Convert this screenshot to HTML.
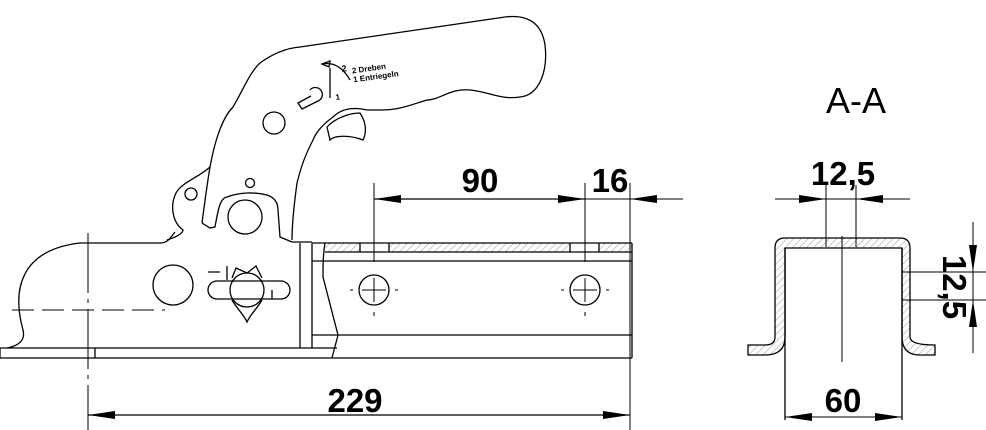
<!DOCTYPE html>
<html><head><meta charset="utf-8"><style>
html,body{margin:0;padding:0;background:#fff;}
svg{display:block;}
.d{font-family:"Liberation Sans",sans-serif;font-weight:bold;font-size:33px;fill:#000;}
</style></head><body>
<svg width="986" height="430" viewBox="0 0 986 430" xmlns="http://www.w3.org/2000/svg">
<defs>
<pattern id="h" width="5" height="5" patternUnits="userSpaceOnUse" patternTransform="rotate(45)">
<line x1="0" y1="0" x2="0" y2="5" stroke="#999" stroke-width="1"/>
</pattern>
<marker id="a" viewBox="0 0 27 8" refX="27" refY="4" markerWidth="27" markerHeight="8" orient="auto-start-reverse" markerUnits="userSpaceOnUse">
<path d="M0,0 L27,4 L0,8 Z" fill="#000"/></marker>
</defs>
<g fill="none" stroke="#000" stroke-width="1.3">
<path d="M0,348 H337 M0,358 H632 M0,348 V358 M95,348 V358"/>
<path d="M7,348 C22,345 25,338 23,330 C12,290 20,250 80,243 H160 C168,243 170,238 175,232"/>
<path d="M300,243 V348 M312,243 V348 M292,242 H312"/>
<path d="M167,240 C180,236 183,232 183,230 C172,222 170,205 176,193 C182,182 198,178 210,167 C215,140 222,118 233,107 C243,90 250,72 260,63 C275,52 288,48 300,47 L505,17 C530,14 542,25 545,45 C548,70 540,95 520,97 C500,100 490,92 470,90 C450,88 440,100 427,100 C410,105 400,110 380,110 L367,110 C350,106 340,110 333,117 C322,125 316,132 313,140 C305,155 300,170 297,183 C294,205 292,225 292,240"/>
<path d="M202,223 C205,200 207,185 210,167"/>
<path d="M202,223 L210,228 L215,227 C218,210 220,198 227,197 C240,192 255,192 267,195 C276,198 278,204 278,210 L280,237 L292,242"/>
<circle cx="245" cy="217" r="17"/>
<circle cx="191" cy="194" r="6"/>
<circle cx="250" cy="183" r="4.5"/>
<circle cx="274" cy="123" r="11"/>
<path d="M310,90 A7,7 0 1 1 318,101 L302,109 L298,103 L311,96"/>
<path d="M327,127 C335,118 350,113 360,113 C366,122 367,132 363,140 C350,135 335,135 330,140 Z"/>
<path d="M322,64 C332,62 342,66 350,80" />
<path d="M322,64 L330,61 L329,67 Z"/>
<path d="M330,68 V98"/>
<circle cx="173" cy="285" r="20"/>
<rect x="208" y="281" width="82" height="18" rx="9"/>
<circle cx="247" cy="290" r="17"/>
<path d="M232,300 C238,310 244,315 247,322 C250,315 256,310 262,300"/>
<path d="M232,278 L236,268 L247,273 L256,266 L262,278"/>
<path d="M208,272 H220 M227,266 V280 M272,290 V299"/>
<rect x="325" y="243" width="35" height="9" fill="url(#h)" stroke="none"/>
<rect x="389" y="243" width="181" height="9" fill="url(#h)" stroke="none"/>
<rect x="599" y="243" width="33" height="9" fill="url(#h)" stroke="none"/>
<path d="M312,243 H632 M325,252 H632 M312,261 H632 M312,335 H632 M632,243 V358"/>
<path d="M360,243 V252 M389,243 V252 M570,243 V252 M599,243 V252"/>
<path d="M325,243 C323,255 323,265 323,277 L338,335 L332,358"/>
<ellipse cx="374" cy="290" rx="15" ry="15"/>
<ellipse cx="585" cy="290" rx="15" ry="15"/>
</g>
<g stroke="#000" stroke-width="1" fill="none">
<path d="M374,278 V302 M362,290 H386 M585,278 V302 M573,290 H597"/>
<path d="M350,290 H353 M395,290 H398 M374,312 V316 M561,290 H564 M606,290 H609 M585,312 V316"/>
<path d="M12,310 H165" stroke-dasharray="22,8"/>
<path d="M88,233 V430" stroke-dasharray="60,6,4,6"/>
<path d="M374,183 V262 M585,183 V262 M630,183 V430"/>
<path d="M374,199 H585" marker-start="url(#a)" marker-end="url(#a)" stroke-width="1.2"/>
<path d="M585,199 H630"/>
<path d="M683,199 H630" marker-end="url(#a)"/>
<path d="M88,415 H630" marker-start="url(#a)" marker-end="url(#a)" stroke-width="1.2"/>
</g>
<g class="d">
<text x="480" y="192" text-anchor="middle">90</text>
<text x="610" y="192" text-anchor="middle">16</text>
<text x="355" y="412" text-anchor="middle">229</text>
</g>
<g font-family="Liberation Sans,sans-serif" font-weight="bold" font-size="8" fill="#000" transform="rotate(-8 370 70)">
<text x="352" y="71">2 Dreben</text>
<text x="352" y="80">1 Entriegeln</text>
<text x="342" y="68" font-size="9">2</text>
<text x="332" y="95" font-size="8">1</text>
</g>
<text x="856" y="113" text-anchor="middle" font-family="Liberation Sans,sans-serif" font-size="36" fill="#000">A-A</text>
<path d="M775,337 V248 Q775,238 785,238 H900 Q910,238 910,248 V337 Q910,345 935,345 V355 H920 Q902,355 902,337 V248 H785 V337 Q785,355 765,355 H748 V345 H765 Q775,345 775,337 Z" fill="url(#h)" stroke="#000" stroke-width="1.3"/>
<path d="M785,248 V420 M902,248 V420" stroke="#000" stroke-width="1.3"/>
<g stroke="#000" stroke-width="1" fill="none">
<path d="M842,236 V362"/>
<path d="M826,185 V247 M856,185 V247"/>
<path d="M775,199 H826" marker-end="url(#a)"/>
<path d="M910,199 H856" marker-end="url(#a)"/>
<path d="M826,199 H856"/>
<path d="M830,417 H785" marker-end="url(#a)"/>
<path d="M857,417 H902" marker-end="url(#a)"/>
<path d="M830,417 H857"/>
<path d="M902,272 H986 M902,300 H986"/>
<path d="M973,222 V272" marker-end="url(#a)"/>
<path d="M973,353 V300" marker-end="url(#a)"/>
<path d="M973,272 V300"/>
</g>
<g class="d">
<text x="843" y="185" text-anchor="middle">12,5</text>
<text x="843" y="412" text-anchor="middle">60</text>
<text transform="translate(943,287) rotate(90)" text-anchor="middle">12,5</text>
</g>
</svg>
</body></html>
